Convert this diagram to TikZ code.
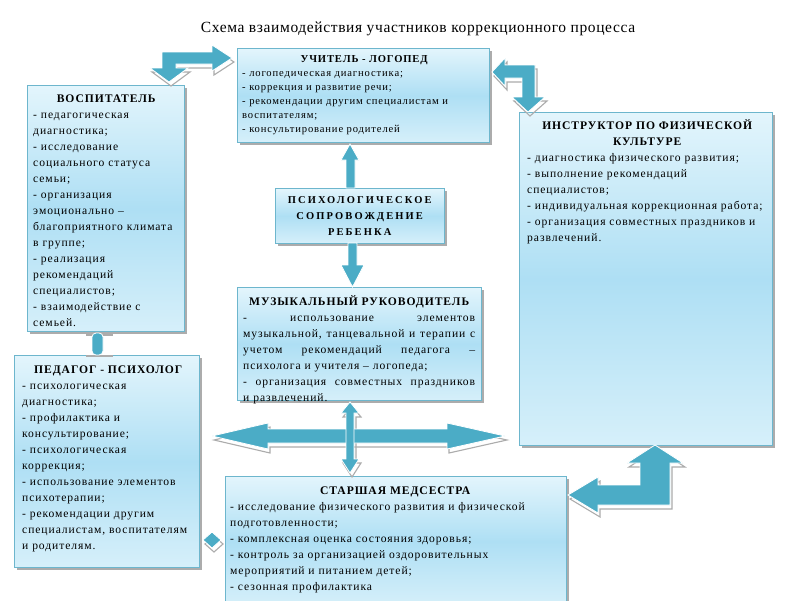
\documentclass[tikz,border=0pt]{standalone}
\usepackage{fontspec}
\setmainfont[LetterSpace=8]{Liberation Serif}
\newfontfamily\titlefont[LetterSpace=4]{Liberation Serif}
\newfontfamily\widefont[LetterSpace=20]{Liberation Serif}
\usetikzlibrary{shadows}
\definecolor{aqua}{HTML}{4BACC6}
\definecolor{boxline}{HTML}{6DB6CD}
\definecolor{boxtop}{HTML}{E3F5FC}
\definecolor{boxmid}{HTML}{AEDFF4}
\tikzset{
  panel/.style={draw=boxline, line width=0.9pt, top color=boxtop, bottom color=boxtop!75!boxmid,
    middle color=boxmid, inner sep=0pt, anchor=north west,
    drop shadow={shadow xshift=3pt, shadow yshift=-3pt, fill=gray!65, opacity=1}},
  txt/.style={align=left, inner sep=0pt, anchor=north west, font=\fontsize{11.6}{16}\selectfont},
  blk/.style={fill=aqua, draw=white, line width=0.8pt},
  blkshade/.style={draw=gray!65, line width=1.1pt},
}
\begin{document}
\begin{tikzpicture}[x=1pt,y=-1pt]
\useasboundingbox[fill=white] (0,0) rectangle (800,600);

% title
\node[font=\titlefont\fontsize{15.5}{17}\selectfont, anchor=base] (title) at (418,32)
  {Схема взаимодействия участников коррекционного процесса};

% boxes
\node[panel, minimum width=252, minimum height=94] (uch) at (237,48) {};
\node[panel, minimum width=157, minimum height=246] (vos) at (27,85) {};
\node[panel, minimum width=253, minimum height=333] (ins) at (519,112) {};
\node[panel, minimum width=169, minimum height=55] (psy) at (275,188) {};
\node[panel, minimum width=244, minimum height=113] (mus) at (237,287) {};
\node[panel, minimum width=185, minimum height=212] (ped) at (14,355) {};
\node[panel, minimum width=341, minimum height=130] (med) at (225,476) {};

% texts
\node[txt, text width=244, font=\fontsize{10.6}{14}\selectfont] (uchT) at ([xshift=5,yshift=-7]uch.north west)
 {\makebox[244pt]{\bfseries УЧИТЕЛЬ - ЛОГОПЕД}\\
  - логопедическая диагностика;\\
  - коррекция и развитие речи;\\
  - рекомендации другим специалистам и\\
  воспитателям;\\
  - консультирование родителей};

\node[txt, text width=146] (vosT) at ([xshift=6,yshift=-10]vos.north west)
 {\makebox[146pt]{\bfseries ВОСПИТАТЕЛЬ}\\
  - педагогическая\\
  диагностика;\\
  - исследование\\
  социального статуса\\
  семьи;\\
  - организация\\
  эмоционально –\\
  благоприятного климата\\
  в группе;\\
  - реализация\\
  рекомендаций\\
  специалистов;\\
  - взаимодействие с\\
  семьей.};

\node[txt, text width=240] (insT) at ([xshift=8,yshift=-7.2]ins.north west)
 {\makebox[240pt]{\bfseries ИНСТРУКТОР ПО ФИЗИЧЕСКОЙ}\\
  \makebox[240pt]{\bfseries КУЛЬТУРЕ}\\
  - диагностика физического развития;\\
  - выполнение рекомендаций\\
  специалистов;\\
  - индивидуальная коррекционная работа;\\
  - организация совместных праздников и\\
  развлечений.};

\node[txt, text width=169, align=center, font=\widefont\fontsize{10.5}{16}\selectfont\bfseries] (psyT)
  at ([yshift=-8]psy.north west)
 {ПСИХОЛОГИЧЕСКОЕ\\СОПРОВОЖДЕНИЕ\\РЕБЕНКА};

\node[txt, text width=232] (musT) at ([xshift=6,yshift=-8.2]mus.north west)
 {\makebox[232pt]{\bfseries МУЗЫКАЛЬНЫЙ РУКОВОДИТЕЛЬ}\\
  \makebox[232pt]{-\hfill использование\hfill элементов}\\
  \makebox[232pt]{музыкальной,\hfill танцевальной\hfill и\hfill терапии\hfill с}\\
  \makebox[232pt]{учетом\hfill рекомендаций\hfill педагога\hfill –}\\
  психолога и учителя – логопеда;\\
  \makebox[232pt]{-\hfill организация\hfill совместных\hfill праздников}\\
  и развлечений.};

\node[txt, text width=172] (pedT) at ([xshift=8,yshift=-10.2]ped.north west)
 {\makebox[172pt]{\bfseries ПЕДАГОГ - ПСИХОЛОГ}\\
  - психологическая\\
  диагностика;\\
  - профилактика и\\
  консультирование;\\
  - психологическая\\
  коррекция;\\
  - использование элементов\\
  психотерапии;\\
  - рекомендации другим\\
  специалистам, воспитателям\\
  и родителям.};

\node[txt, text width=330] (medT) at ([xshift=5,yshift=-10.2]med.north west)
 {\makebox[330pt]{\bfseries СТАРШАЯ МЕДСЕСТРА}\\
  - исследование физического развития и физической\\
  подготовленности;\\
  - комплексная оценка состояния здоровья;\\
  - контроль за организацией оздоровительных\\
  мероприятий и питанием детей;\\
  - сезонная профилактика};

% block arrows: shadow outlines first, then filled shapes
\def\aTL{(162,52) -- (212,52) -- (212,45) -- (232,58) -- (212,71) -- (212,64) -- (176,64) -- (176,68) -- (188,68) -- (169,82) -- (150,68) -- (162,68) -- cycle}
\def\aTR{(492,72) -- (505,58) -- (505,65) -- (535,65) -- (535,97) -- (545,97) -- (528,112) -- (512,97) -- (522,97) -- (522,78) -- (505,78) -- (505,86) -- cycle}
\def\aUP{(350,144) -- (359,160) -- (355,160) -- (355,188) -- (346,188) -- (346,160) -- (341,160) -- cycle}
\def\aDN{(348,243) -- (357,243) -- (357,265) -- (364,265) -- (352.5,287) -- (341,265) -- (348,265) -- cycle}
\def\aH{(212,436) -- (268,423) -- (268,429) -- (447,429) -- (447,423) -- (505,436) -- (447,449) -- (447,443) -- (268,443) -- (268,449) -- cycle}
\def\aV{(350,402) -- (359,413) -- (354,413) -- (354,459) -- (359,459) -- (350,473) -- (341,459) -- (346,459) -- (346,413) -- (341,413) -- cycle}
\def\aBR{(655,445) -- (683,463) -- (670,463) -- (670,505) -- (598,505) -- (598,513) -- (568,495) -- (598,477) -- (598,485) -- (640,485) -- (640,463) -- (627,463) -- cycle}
\def\aSM{(203,540) -- (212,532) -- (221,540) -- (212,548) -- cycle}

\begin{scope}[shift={(2,4)}]
  \foreach \p in {\aTL,\aTR,\aH,\aV,\aBR,\aSM} {\draw[blkshade] \p;}
  \draw[blkshade] (84,331) -- (111,331);
  \draw[blkshade] (84,352) -- (111,352);
\end{scope}
\foreach \p in {\aTL,\aTR,\aUP,\aDN,\aH,\aV,\aBR,\aSM} {\filldraw[blk] \p;}
\filldraw[blk, rounded corners=4pt] (92,333) rectangle (103,355);
\end{tikzpicture}
\end{document}
